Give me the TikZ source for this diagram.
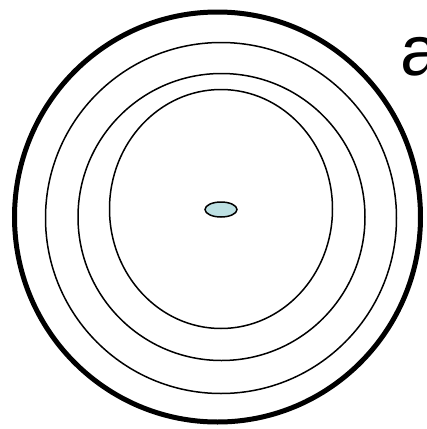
\documentclass[tikz,border=0pt]{standalone}
\usepackage{fontspec}
\setmainfont{Liberation Sans}
\definecolor{nucfill}{RGB}{189,224,227}
\begin{document}
\begin{tikzpicture}[x=1pt,y=-1pt,
  ring/.style={draw=black,line width=1.5pt},
  outerring/.style={draw=black,line width=5pt}]
\clip (0,0) rectangle (427,429);
\fill[white] (0,0) rectangle (427,429);
\draw[outerring] (217.5,217) ellipse [x radius=203, y radius=205];
\draw[ring] (221,218) ellipse [x radius=175.5, y radius=175.5];
\draw[ring] (221.5,217) ellipse [x radius=143.5, y radius=143.5];
\draw[ring] (221,209) ellipse [x radius=111.5, y radius=119.5];
\coordinate (nucleus) at (221,209.5);
\draw[draw=black,line width=1.5pt,fill=nucfill] (nucleus) ellipse [x radius=16, y radius=7.5];
\node[anchor=base west,inner sep=0pt,font=\fontsize{71}{71}\selectfont] (label) at (400.5,75) {a};
\end{tikzpicture}
\end{document}
